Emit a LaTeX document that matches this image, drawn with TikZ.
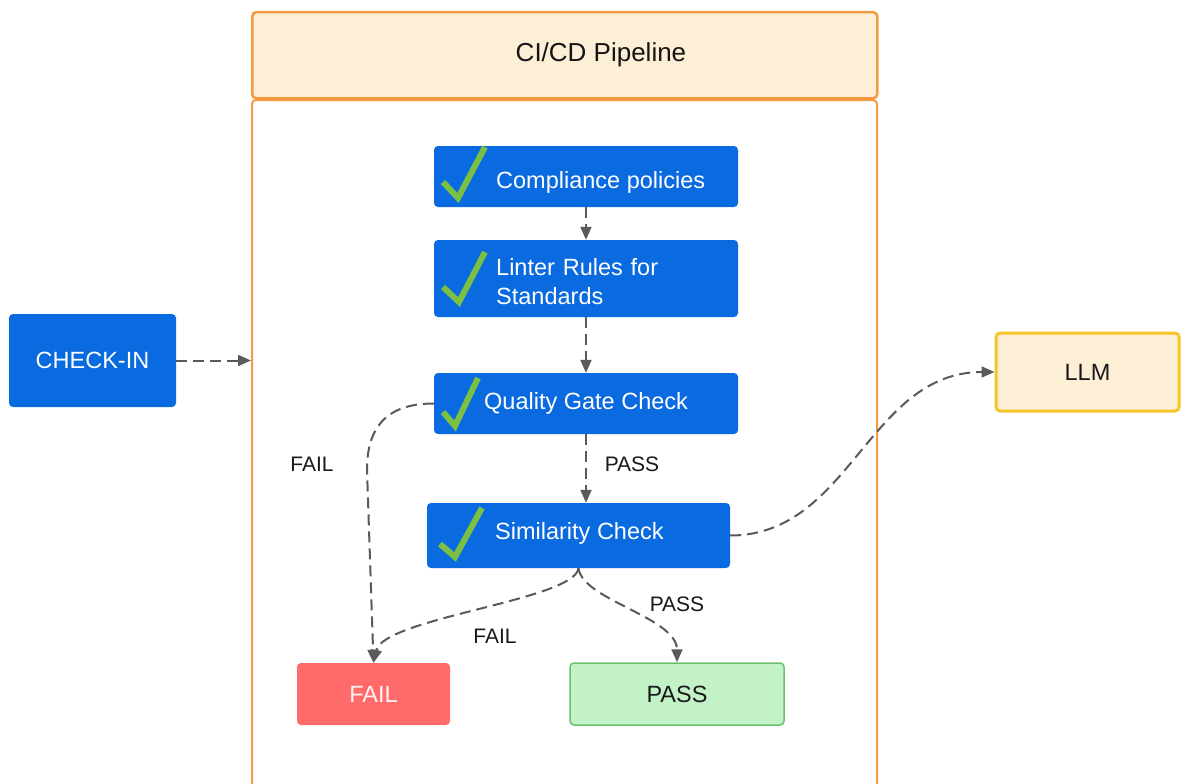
\documentclass[tikz,border=0pt]{standalone}
\usepackage{fontspec}
\setmainfont{Liberation Sans}
\usetikzlibrary{arrows.meta}

\definecolor{stageblue}{RGB}{10,106,224}
\definecolor{tickgreen}{RGB}{122,193,67}
\definecolor{creamfill}{RGB}{253,239,214}
\definecolor{frameorange}{RGB}{243,154,66}
\definecolor{llmborder}{RGB}{246,196,40}
\definecolor{failred}{RGB}{255,107,107}
\definecolor{passfill}{RGB}{195,242,199}
\definecolor{passborder}{RGB}{108,192,112}
\definecolor{linkgray}{RGB}{90,90,90}

\begin{document}
\begin{tikzpicture}[x=1pt,y=-1pt,
  every node/.style={font=\fontsize{23.5}{28}\selectfont},
  stagebox/.style={draw=none,fill=stageblue,rounded corners=4pt,inner sep=0pt},
  stagetext/.style={text=white,anchor=west,align=left,inner sep=0pt},
  tick/.style={draw=tickgreen,line width=6pt,line join=miter},
  link/.style={draw=linkgray,line width=2pt,dash pattern=on 11pt off 6pt,
    -{Triangle[length=13pt,width=11pt]}},
  edgelabel/.style={font=\fontsize{21}{25}\selectfont,text=black!90,inner sep=0pt},
  creambox/.style={fill=creamfill,rounded corners=4pt,inner sep=0pt},
]
\useasboundingbox (0,0) rectangle (1181,784);
\fill[white] (0,0) rectangle (1181,784);

% pipeline container: header strip and body
\node[creambox,draw=frameorange,line width=2.5pt,minimum width=625pt,minimum height=86pt,
  anchor=north west] (head) at (251,11) {};
\node[text=black!92,font=\fontsize{26}{30}\selectfont] (title) at (601,55) {CI/CD Pipeline};
\node[draw=frameorange,line width=2pt,fill=white,rounded corners=4pt,minimum width=625pt,
  minimum height=720pt,anchor=north west] (body) at (251,99) {};

% entry point
\node[stagebox,minimum width=167pt,minimum height=93pt,text=white] (checkin) at (92.5,360.5) {CHECK-IN};

% pipeline stages
\node[stagebox,minimum width=304pt,minimum height=61pt] (comp) at (586,176.5) {};
\node[stagetext] (comptext) at (496,182) {Compliance policies};
\draw[tick] (443,182) -- (458,198) -- (485,147);

\node[stagebox,minimum width=304pt,minimum height=77pt] (lint) at (586,278.5) {};
\node[stagetext,text width=220pt,font=\fontsize{23.5}{29}\selectfont] (linttext) at (496,282) {Linter Rules for\\Standards};
\draw[tick] (443,287) -- (459,302) -- (485,252);

\node[stagebox,minimum width=304pt,minimum height=61pt] (qual) at (586,403.5) {};
\node[stagetext] (qualtext) at (484,403) {Quality Gate Check};
\draw[tick] (443,412) -- (455,426) -- (478,378);

\node[stagebox,minimum width=303pt,minimum height=65pt] (sim) at (578.5,535.5) {};
\node[stagetext] (simtext) at (495,533) {Similarity Check};
\draw[tick] (440,544) -- (455,557) -- (482,508);

% outcomes
\node[fill=failred,rounded corners=4pt,minimum width=153pt,minimum height=62pt,
  text=white!96!red] (failbox) at (373.5,694) {FAIL};
\node[fill=passfill,draw=passborder,line width=1.5pt,rounded corners=4pt,minimum width=214pt,
  minimum height=62pt,text=black!90] (passbox) at (677,694) {PASS};
\node[creambox,draw=llmborder,line width=3pt,minimum width=183pt,minimum height=78pt,
  text=black!90] (llm) at (1087.5,372) {LLM};

% connectors
\coordinate (inlet) at (checkin.east -| body.west);
\coordinate (simtop) at (qual.south |- sim.north);
\draw[link] (checkin.east) -- (inlet);
\draw[link] (comp.south) -- (lint.north);
\draw[link] (lint.south) -- (qual.north);
\draw[link] (qual.south) -- (simtop);
\draw[link] (qual.west) .. controls +(-50,0) and +(0,-40) .. (367,470) -- (failbox.north);
\draw[link] (sim.south) .. controls +(-4,32) and +(10,-45) .. (failbox.north);
\draw[link] (sim.south) .. controls +(4,32) and +(0,-45) .. (passbox.north);
\draw[link] (sim.east) .. controls +(120,0) and +(-126,0) .. (llm.west);

% connector labels
\node[edgelabel] (lblpass1) at (632,464) {PASS};
\node[edgelabel] (lblfail1) at (312,464) {FAIL};
\node[edgelabel] (lblfail2) at (495,636) {FAIL};
\node[edgelabel] (lblpass2) at (677,604) {PASS};
\end{tikzpicture}
\end{document}
